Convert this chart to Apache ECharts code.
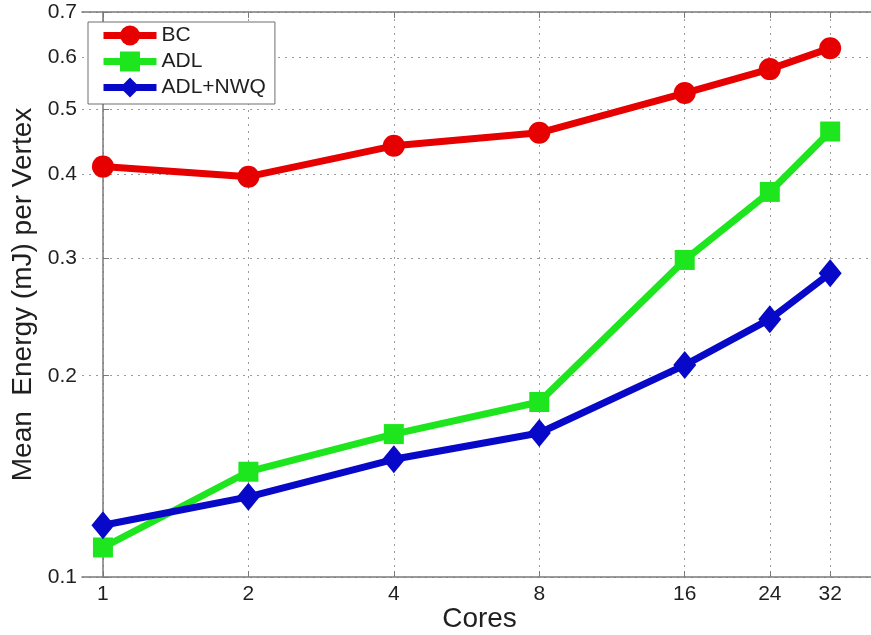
<!DOCTYPE html>
<html>
<head>
<meta charset="utf-8">
<style>
  html, body { margin: 0; padding: 0; background: #ffffff; }
  #chart { width: 871px; height: 635px; }
</style>
<script src="https://cdn.jsdelivr.net/npm/echarts@6/dist/echarts.min.js"></script>
</head>
<body>
<div id="chart"></div>
<script>
// Core counts along the x axis (log2 spacing)
const cores = [1, 2, 4, 8, 16, 24, 32];

// Mean energy (mJ) per vertex for each scheme
const bc     = [0.411, 0.397, 0.4415, 0.4617, 0.5295, 0.575, 0.618];
const adl    = [0.1107, 0.1437, 0.1636, 0.1827, 0.298, 0.3767, 0.4638];
const adlNwq = [0.1195, 0.1318, 0.150, 0.1642, 0.2075, 0.243, 0.2847];

// Tick labels on the energy axis
const yTicks = [0.1, 0.2, 0.3, 0.4, 0.5, 0.6, 0.7];

const seriesNames = ['BC', 'ADL', 'ADL+NWQ'];

// Both axes are logarithmic: values are mapped to log space here and
// the labels convert back to the original units.
const xMin = Math.log2(0.905);
const xMax = Math.log2(40);
const yMin = Math.log10(0.1);
const yMax = Math.log10(0.7);

const xTickVals = cores.map(c => Math.log2(c));
const yTickVals = yTicks.map(v => Math.log10(v));

const toPoints = vals => cores.map((c, i) => [Math.log2(c), Math.log10(vals[i])]);

const FONT = '"Liberation Sans", Arial, Helvetica, sans-serif';
const AXIS_GRAY = '#7a7a7a';
const TEXT = '#1f1f1f';
const gridLineStyle = { color: '#9a9a9a', width: 1, type: [2, 5] };

const chart = echarts.init(document.getElementById('chart'), null, { renderer: 'canvas' });

const option = {
  backgroundColor: '#ffffff',
  animation: false,
  textStyle: { fontFamily: FONT },
  // The plot box runs past the right edge of the canvas, so keep the
  // grid exactly where it is placed instead of fitting it inside.
  grid: { left: 82, top: 12, width: 795, height: 565, containLabel: false, outerBoundsMode: 'none' },
  legend: {
    left: 88, top: 22,
    orient: 'vertical',
    data: seriesNames,
    itemWidth: 53,
    itemHeight: 25,
    itemGap: 5,
    padding: [3, 9, 6, 12],
    borderColor: '#6e6e6e',
    borderWidth: 1,
    backgroundColor: '#ffffff',
    lineStyle: { width: 7 },
    textStyle: { fontFamily: FONT, fontSize: 21, color: TEXT }
  },
  xAxis: [
    {
      type: 'value', position: 'bottom',
      min: xMin, max: xMax,
      name: 'Cores', nameLocation: 'middle', nameGap: 28, nameMoveOverlap: false,
      nameTextStyle: { fontFamily: FONT, fontSize: 28, color: TEXT },
      axisLine: { show: true, lineStyle: { color: AXIS_GRAY, width: 1.5 } },
      axisTick: { show: true, inside: true, length: 6, customValues: xTickVals, lineStyle: { color: AXIS_GRAY } },
      axisLabel: {
        customValues: xTickVals, margin: 7,
        fontFamily: FONT, fontSize: 21, color: TEXT,
        formatter: v => String(Math.round(Math.pow(2, v)))
      },
      splitLine: { show: true, lineStyle: gridLineStyle }
    },
    {
      type: 'value', position: 'top',
      min: xMin, max: xMax,
      axisLine: { show: true, lineStyle: { color: AXIS_GRAY, width: 1.5 } },
      axisTick: { show: true, inside: true, length: 6, customValues: xTickVals, lineStyle: { color: AXIS_GRAY } },
      axisLabel: { show: false },
      splitLine: { show: false }
    }
  ],
  yAxis: {
    type: 'value',
    min: yMin, max: yMax,
    name: 'Mean  Energy (mJ) per Vertex', nameLocation: 'middle', nameGap: 45, nameMoveOverlap: false,
    nameTextStyle: { fontFamily: FONT, fontSize: 28, color: TEXT },
    axisLine: { show: true, lineStyle: { color: AXIS_GRAY, width: 1.5 } },
    axisTick: { show: true, inside: true, length: 6, customValues: yTickVals, lineStyle: { color: AXIS_GRAY } },
    axisLabel: {
      customValues: yTickVals, margin: 5,
      fontFamily: FONT, fontSize: 21, color: TEXT,
      formatter: v => Math.pow(10, v).toFixed(1)
    },
    splitLine: { show: true, lineStyle: gridLineStyle }
  },
  series: [
    {
      name: 'BC', type: 'line', data: toPoints(bc),
      symbol: 'circle', symbolSize: 22,
      lineStyle: { color: '#e60000', width: 7 },
      itemStyle: { color: '#e60000' },
      z: 2
    },
    {
      name: 'ADL', type: 'line', data: toPoints(adl),
      symbol: 'rect', symbolSize: 20,
      lineStyle: { color: '#1ee61e', width: 7 },
      itemStyle: { color: '#1ee61e' },
      z: 3
    },
    {
      name: 'ADL+NWQ', type: 'line', data: toPoints(adlNwq),
      symbol: 'diamond', symbolSize: [23, 28],
      lineStyle: { color: '#0808c8', width: 7 },
      itemStyle: { color: '#0808c8' },
      z: 4
    }
  ]
};

chart.setOption(option);
</script>
</body>
</html>
